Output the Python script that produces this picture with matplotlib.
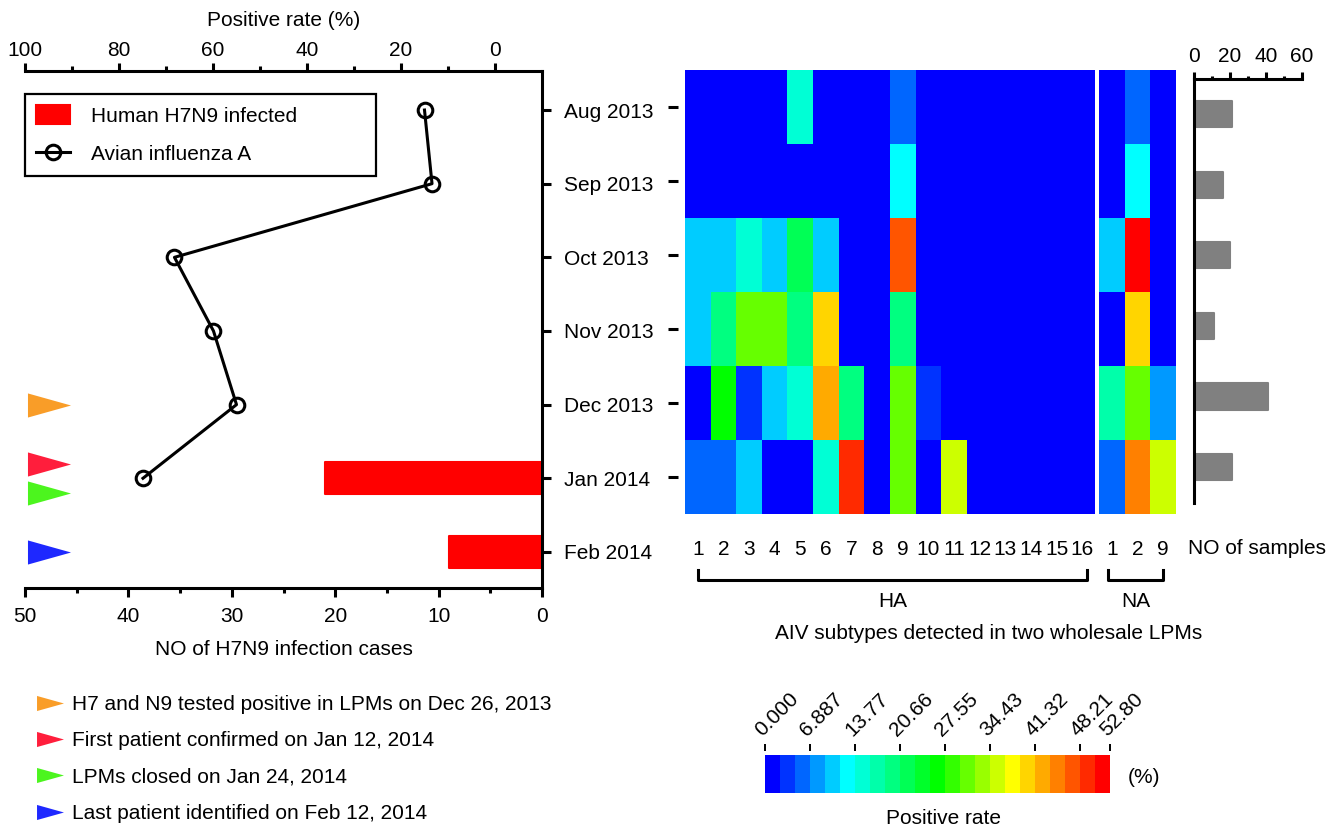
import numpy as np
import matplotlib
matplotlib.use('Agg')
import matplotlib.pyplot as plt
import matplotlib.transforms as mtransforms
from matplotlib.colors import ListedColormap, BoundaryNorm
from matplotlib.cm import ScalarMappable
from matplotlib.lines import Line2D

plt.rcParams['font.family'] = ['Liberation Sans', 'DejaVu Sans']
plt.rcParams['font.size'] = 15

# ---Data
months = ['Aug 2013', 'Sep 2013', 'Oct 2013', 'Nov 2013', 'Dec 2013', 'Jan 2014', 'Feb 2014']
h7n9_cases = [0, 0, 0, 0, 0, 21, 9]
aiv_rate = [15.0, 13.4, 68.2, 59.9, 55.0, 74.9]          # Aug 2013 .. Jan 2014
n_samples = [21, 16, 20, 11, 41, 21]

ha_labels = [str(i) for i in range(1, 17)]
na_labels = ['1', '2', '9']

# positive rate (%) per subtype, rows Aug 2013 .. Jan 2014
ha_rate = [
    [0, 0, 0, 0, 14.9, 0, 0, 0, 5.7, 0, 0, 0, 0, 0, 0, 0],
    [0, 0, 0, 0, 0, 0, 0, 0, 12.6, 0, 0, 0, 0, 0, 0, 0],
    [10.3, 10.3, 14.9, 10.3, 21.8, 10.3, 0, 0, 47.1, 0, 0, 0, 0, 0, 0, 0],
    [10.3, 19.5, 31.0, 31.0, 19.5, 40.2, 0, 0, 19.5, 0, 0, 0, 0, 0, 0, 0],
    [0, 26.4, 3.4, 10.3, 14.9, 42.5, 19.5, 0, 31.0, 3.4, 0, 0, 0, 0, 0, 0],
    [5.7, 5.7, 10.3, 0, 0, 14.9, 49.4, 0, 31.0, 0, 35.6, 0, 0, 0, 0, 0],
]
na_rate = [
    [0, 5.7, 0],
    [0, 12.6, 0],
    [10.3, 52.8, 0],
    [0, 40.2, 0],
    [17.2, 31.0, 8.0],
    [5.7, 44.8, 35.6],
]

event_labels = ['H7 and N9 tested positive in LPMs on Dec 26, 2013',
                'First patient confirmed on Jan 12, 2014',
                'LPMs closed on Jan 24, 2014',
                'Last patient identified on Feb 12, 2014']
event_rows = [4.0, 4.8, 5.2, 6.0]
event_colors = ['#F99D28', '#FF1E3C', '#4CF51E', '#1E28FF']

cbar_ticks = [0, 6.887, 13.77, 20.66, 27.55, 34.43, 41.32, 48.21, 52.80]
cbar_ticklabels = ['0.000', '6.887', '13.77', '20.66', '27.55', '34.43', '41.32', '48.21', '52.80']

level_colors = ['#0000ff', '#0033ff', '#0066ff', '#0099ff', '#00ccff', '#00ffff',
                '#00ffd5', '#00ffaa', '#00ff80', '#00ff55', '#00ff2a', '#00ff00',
                '#33ff00', '#66ff00', '#99ff00', '#ccff00', '#ffff00', '#ffd500',
                '#ffaa00', '#ff8000', '#ff5500', '#ff2a00', '#ff0000']
cmap = ListedColormap(level_colors)
norm = BoundaryNorm(np.linspace(0, 52.8, len(level_colors) + 1), cmap.N)

W, H = 1343, 830
LW = 2.2


def px_box(x0, y0, x1, y1):
    return [x0 / W, 1 - y1 / H, (x1 - x0) / W, (y1 - y0) / H]


tri = [(-1, 0.56), (1, 0), (-1, -0.56), (-1, 0.56)]

fig = plt.figure(figsize=(W / 100, H / 100), dpi=100)

# ---Left panel: cases (bottom axis) and positive rate (top axis)
ax = fig.add_axes(px_box(25, 71, 542, 588))
rows = np.arange(len(months))
has_case = np.array(h7n9_cases) > 0
bars = ax.barh(rows[has_case], np.array(h7n9_cases)[has_case], height=0.44,
               color='#ff0000', edgecolor='#ff0000', linewidth=1.5,
               joinstyle='round', label='Human H7N9 infected')
ax.set_xlim(50, 0)
ax.set_ylim(6.49, -0.53)
ax.set_xticks([50, 40, 30, 20, 10, 0])
ax.set_xticks([45, 35, 25, 15, 5], minor=True)
ax.set_yticks(rows)
ax.set_yticklabels(months)
ax.yaxis.tick_right()
ax.tick_params(axis='y', length=6.5, width=LW, pad=9)
ax.tick_params(axis='x', which='major', length=6.5, width=LW, pad=7)
ax.tick_params(axis='x', which='minor', length=3.5, width=LW)
ax.set_xlabel('NO of H7N9 infection cases', labelpad=10)
ax.spines['left'].set_visible(False)
ax.spines['top'].set_visible(False)
for s in ('bottom', 'right'):
    ax.spines[s].set_linewidth(LW)

ax2 = ax.twiny()
line, = ax2.plot(aiv_rate, rows[:len(aiv_rate)], '-o', color='k', lw=LW,
                 ms=10.5, mew=LW, mfc='none', label='Avian influenza A')
ax2.set_xlim(100, -10)
ax2.set_xticks([100, 80, 60, 40, 20, 0])
ax2.set_xticks([90, 70, 50, 30, 10], minor=True)
ax2.tick_params(axis='x', which='major', length=5.8, width=LW, pad=2)
ax2.tick_params(axis='x', which='minor', length=3.5, width=LW)
ax2.set_xlabel('Positive rate (%)', labelpad=11)
for s in ('left', 'right', 'bottom'):
    ax2.spines[s].set_visible(False)
ax2.spines['top'].set_linewidth(LW)

leg = ax2.legend([bars, line], ['Human H7N9 infected', 'Avian influenza A'],
                 loc='upper left', bbox_to_anchor=(25 / W, 1 - 177 / H, 351 / W, 83 / H),
                 bbox_transform=fig.transFigure, mode='expand', borderaxespad=0,
                 fancybox=False, edgecolor='k', framealpha=1, borderpad=0.55,
                 handlelength=1.6, handleheight=1.0, handletextpad=1.0,
                 labelspacing=0.85)
leg.get_frame().set_linewidth(1.6)

# ---Event markers
ev_trans = mtransforms.blended_transform_factory(ax.transAxes, ax.transData)
for yr, c in zip(event_rows, event_colors):
    ax2.plot([0.046], [yr], marker=tri, ms=31, mew=0, color=c, ls='none',
             transform=ev_trans, clip_on=False)

# ---Heatmaps (HA and NA subtypes)
ax_ha = fig.add_axes(px_box(685, 70, 1095, 514))
ax_na = fig.add_axes(px_box(1099, 70, 1176, 514))
for a, vals, labs in ((ax_ha, ha_rate, ha_labels), (ax_na, na_rate, na_labels)):
    a.imshow(np.array(vals), cmap=cmap, norm=norm, aspect='auto', interpolation='nearest')
    a.set_xticks(range(len(labs)))
    a.set_xticklabels(labs)
    a.tick_params(axis='x', length=0, pad=19)
    for s in a.spines.values():
        s.set_color('none')
ax_ha.set_yticks(range(len(aiv_rate)))
ax_ha.set_yticklabels([])
ax_ha.spines['left'].set_position(('outward', 5))
ax_ha.tick_params(axis='y', length=7.2, width=LW)
ax_na.set_yticks([])

# brackets
for a, x0, x1, txt in ((ax_ha, 0, 15.2, 'HA'), (ax_na, -0.15, 2.0, 'NA')):
    tr = mtransforms.blended_transform_factory(a.transData, a.transAxes)
    a.plot([x0, x0, x1, x1], [-0.126, -0.149, -0.149, -0.126], color='k',
           lw=LW, transform=tr, clip_on=False)
    a.text((x0 + x1) / 2, -0.198, txt, transform=tr, ha='center', va='center')

fig.text(989 / W, 1 - 633 / H, 'AIV subtypes detected in two wholesale LPMs',
         ha='center', va='center')

# ---Right panel: number of samples
ax_s = fig.add_axes(px_box(1194, 79, 1302, 503))
ax_s.barh(range(len(n_samples)), n_samples, height=0.37, color='#808080',
          edgecolor='#808080', linewidth=1.5, joinstyle='round')
ax_s.set_xlim(0, 60)
ax_s.set_ylim(5.51, -0.5)
ax_s.xaxis.tick_top()
ax_s.set_xticks([0, 20, 40, 60])
ax_s.set_xticks([10, 30, 50], minor=True)
ax_s.set_yticks([])
ax_s.tick_params(axis='x', which='major', length=5, width=LW, pad=4)
ax_s.tick_params(axis='x', which='minor', length=2.5, width=LW)
for s in ('right', 'bottom'):
    ax_s.spines[s].set_visible(False)
for s in ('left', 'top'):
    ax_s.spines[s].set_linewidth(LW)
fig.text(1257 / W, 1 - 548 / H, 'NO of samples', ha='center', va='center')

# ---Colorbar
cax = fig.add_axes(px_box(765, 755, 1110, 793))
cb = fig.colorbar(ScalarMappable(norm=norm, cmap=cmap), cax=cax,
                  orientation='horizontal')
cb.outline.set_visible(False)
cb.set_ticks(cbar_ticks, labels=cbar_ticklabels)
cb.minorticks_off()
cax.xaxis.set_ticks_position('top')
cax.spines['top'].set_position(('outward', 3))
cax.tick_params(axis='x', length=5, width=1.4, pad=3, labelrotation=45)
plt.setp(cax.get_xticklabels(), ha='left', va='bottom', rotation_mode='anchor')
fig.text(943 / W, 1 - 818 / H, 'Positive rate', ha='center', va='center')
fig.text(1128 / W, 1 - 777 / H, '(%)', ha='left', va='center')

# ---Event legend
ev_handles = [Line2D([], [], marker=tri, ms=19.4, mew=0, color=c, ls='none')
              for c in event_colors]
fig.legend(ev_handles, event_labels, loc='upper left',
           bbox_to_anchor=(36 / W, 1 - 695 / H), frameon=False, borderpad=0,
           borderaxespad=0, handlelength=1.3, handletextpad=0.45,
           labelspacing=0.83)

fig.savefig('out.png', dpi=100)
